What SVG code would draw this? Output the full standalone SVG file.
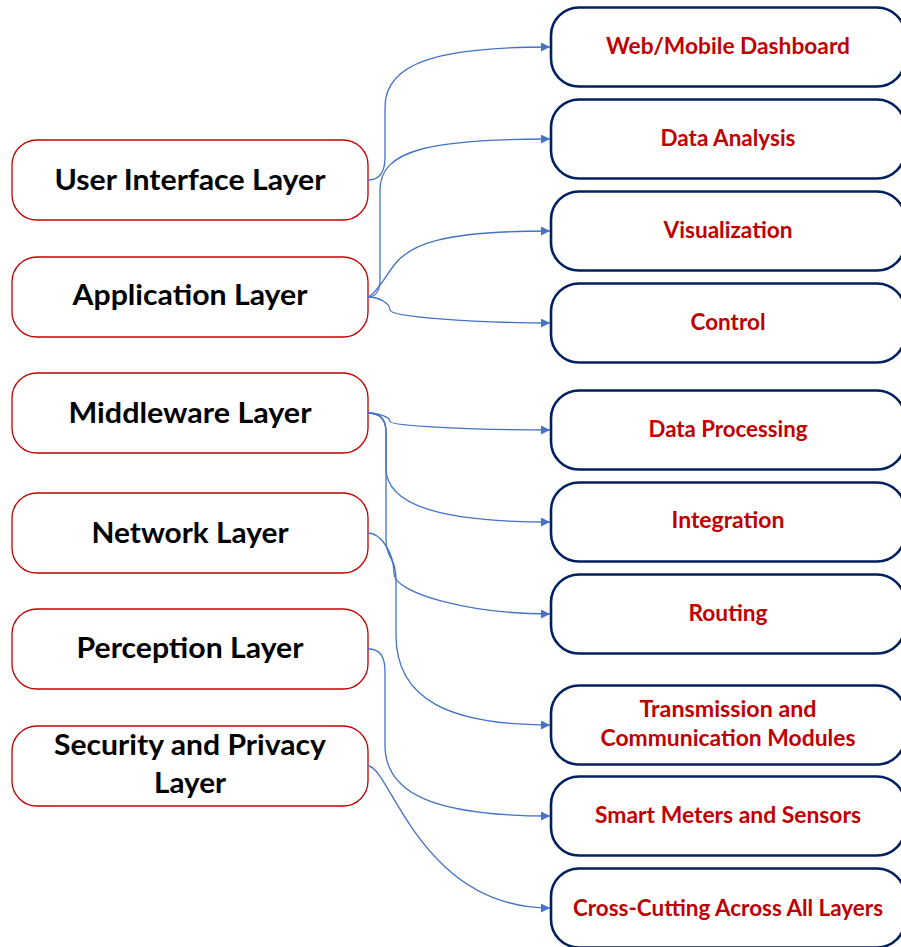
<svg xmlns="http://www.w3.org/2000/svg" width="901" height="947" viewBox="0 0 901 947">
<style>
.lbox{fill:#ffffff;stroke:#c00000;stroke-width:1.3}
.rbox{fill:#ffffff;stroke:#002060;stroke-width:2.6}
.lt{font-family:Lato,"Open Sans","Liberation Sans",sans-serif;font-weight:bold;font-size:28px;fill:#000000;text-anchor:middle}
.rt{font-family:Lato,"Open Sans","Liberation Sans",sans-serif;font-weight:bold;font-size:22px;fill:#c00000;text-anchor:middle}
.cn{fill:none;stroke:#4472c4;stroke-width:1.3;marker-end:url(#arr)}
</style>
<defs>
<marker id="arr" markerWidth="10" markerHeight="10" refX="9" refY="4.5" orient="auto" markerUnits="userSpaceOnUse">
<path d="M0,0 L9,4.5 L0,9 z" fill="#4472c4"/>
</marker>
</defs>
<rect width="901" height="947" fill="#ffffff"/>

<g id="ui-layer"><rect class="lbox" x="12" y="140" width="356" height="80" rx="25"/><text class="lt" x="190" y="190" textLength="271" lengthAdjust="spacingAndGlyphs">User Interface Layer</text></g>
<g id="application-layer"><rect class="lbox" x="12" y="257" width="356" height="80" rx="25"/><text class="lt" x="190" y="305" textLength="235" lengthAdjust="spacingAndGlyphs">Application Layer</text></g>
<g id="middleware-layer"><rect class="lbox" x="12" y="373" width="356" height="80" rx="25"/><text class="lt" x="190" y="422.7" textLength="243" lengthAdjust="spacingAndGlyphs">Middleware Layer</text></g>
<g id="network-layer"><rect class="lbox" x="12" y="493" width="356" height="80" rx="25"/><text class="lt" x="190" y="542.7" textLength="197" lengthAdjust="spacingAndGlyphs">Network Layer</text></g>
<g id="perception-layer"><rect class="lbox" x="12" y="609" width="356" height="80" rx="25"/><text class="lt" x="190" y="657.7" textLength="227" lengthAdjust="spacingAndGlyphs">Perception Layer</text></g>
<g id="security-layer"><rect class="lbox" x="12" y="726" width="356" height="80" rx="25"/><text class="lt" x="190" y="755" textLength="272" lengthAdjust="spacingAndGlyphs">Security and Privacy</text><text class="lt" x="190" y="793.3" textLength="72" lengthAdjust="spacingAndGlyphs">Layer</text></g>

<g id="dashboard"><rect class="rbox" x="551" y="7.5" width="354" height="79" rx="28"/><text class="rt" x="728" y="54" textLength="244" lengthAdjust="spacingAndGlyphs">Web/Mobile Dashboard</text></g>
<g id="data-analysis"><rect class="rbox" x="551" y="99.5" width="354" height="79" rx="28"/><text class="rt" x="728" y="145.7" textLength="135" lengthAdjust="spacingAndGlyphs">Data Analysis</text></g>
<g id="visualization"><rect class="rbox" x="551" y="191.5" width="354" height="79" rx="28"/><text class="rt" x="728" y="238" textLength="129" lengthAdjust="spacingAndGlyphs">Visualization</text></g>
<g id="control"><rect class="rbox" x="551" y="283.5" width="354" height="79" rx="28"/><text class="rt" x="728" y="330" textLength="75" lengthAdjust="spacingAndGlyphs">Control</text></g>
<g id="data-processing"><rect class="rbox" x="551" y="390.5" width="354" height="79" rx="28"/><text class="rt" x="728" y="436.7" textLength="159" lengthAdjust="spacingAndGlyphs">Data Processing</text></g>
<g id="integration"><rect class="rbox" x="551" y="482.5" width="354" height="79" rx="28"/><text class="rt" x="728" y="528.3" textLength="113" lengthAdjust="spacingAndGlyphs">Integration</text></g>
<g id="routing"><rect class="rbox" x="551" y="574.5" width="354" height="79" rx="28"/><text class="rt" x="728" y="620.7" textLength="79" lengthAdjust="spacingAndGlyphs">Routing</text></g>
<g id="transmission"><rect class="rbox" x="551" y="685.5" width="354" height="79" rx="28"/><text class="rt" x="728" y="716.7" textLength="177" lengthAdjust="spacingAndGlyphs">Transmission and</text><text class="rt" x="728" y="746" textLength="255" lengthAdjust="spacingAndGlyphs">Communication Modules</text></g>
<g id="smart-meters"><rect class="rbox" x="551" y="776.5" width="354" height="79" rx="28"/><text class="rt" x="728" y="823" textLength="266" lengthAdjust="spacingAndGlyphs">Smart Meters and Sensors</text></g>
<g id="cross-cutting"><rect class="rbox" x="551" y="868.5" width="354" height="79" rx="28"/><text class="rt" x="728" y="916" textLength="310" lengthAdjust="spacingAndGlyphs">Cross-Cutting Across All Layers</text></g>

<g id="connectors">
<path class="cn" d="M368,180 C380,180 385,172 385,157 L385,107 C385,62 440,47 550,47"/>
<path class="cn" d="M368,297 C376,297 380,290 380,280 L380,190 C380,150 430,139 550,139"/>
<path class="cn" d="M368,297 C378,292 386,275 395,264 C410,245 440,231 550,231"/>
<path class="cn" d="M368,297 C379,297 390,303.5 390,310 C390,316.5 470,323 550,323"/>
<path class="cn" d="M368,413 C379,413 390,417.25 390,421.5 C390,425.75 470,430 550,430"/>
<path class="cn" d="M368,413 C380,413 386,420 386,432 L386,468 C386,505 440,522 550,522"/>
<path class="cn" d="M368,413 C380,413 386,420 386,432 L386,540 C386,560 396,556 396,580 L396,635 C396,700 450,725 550,725"/>
<path class="cn" d="M368,533 C381,533 394,553.25 394,573.5 C394,593.75 472,614 550,614"/>
<path class="cn" d="M368,649 C380,649 385,656 385,672 L385,745 C385,792 430,816 550,816"/>
<path class="cn" d="M368,766 C390,766 420,908 550,908"/>
</g>
</svg>
